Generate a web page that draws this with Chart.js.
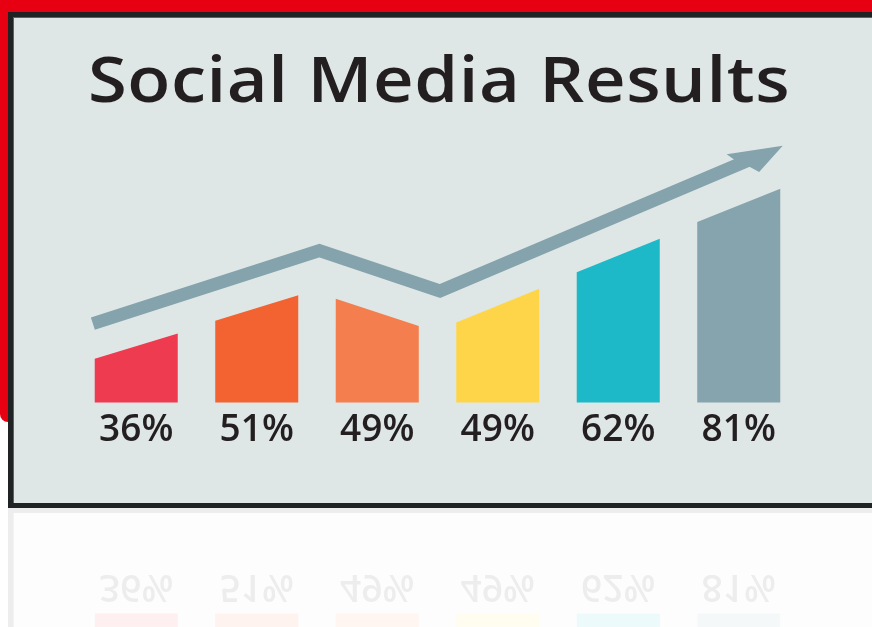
<!DOCTYPE html>
<html lang="en">
<head>
<meta charset="utf-8">
<title>Social Media Results</title>
<script src="https://cdn.jsdelivr.net/npm/chart.js"></script>
<style>
  html, body { margin: 0; padding: 0; background: #fff; }
  .page { position: relative; width: 872px; height: 627px; overflow: hidden; }
  .red { position: absolute; left: 0; top: 0; width: 872px; height: 422px; background: #e60012; border-bottom-left-radius: 8px; }
  .board { position: absolute; left: 8px; top: 12px; width: 900px; height: 496px; box-sizing: border-box;
           border: 5px solid #1f2323; background: #dfe7e6; box-shadow: inset 1px 1px 0 #5c6262; }
  .title { position: absolute; left: 88px; top: 46px; margin: 0; white-space: nowrap;
           font: 600 63px/63px "Open Sans", sans-serif; letter-spacing: 0.5px; color: #231f20;
           transform: scaleX(1.12); transform-origin: 0 50%; }
  .chart-box { position: absolute; left: 0; top: 0; width: 872px; height: 508px; }
  .mirror { position: absolute; left: 0; top: 0; width: 872px; height: 508px;
            transform: scaleY(-1); transform-origin: 50% 100%; opacity: 0.08; }
</style>
</head>
<body>
<div class="page">
  <div class="red"></div>
  <div class="mirror">
    <div class="board"></div>
    <div class="chart-box"><canvas id="reflection"></canvas></div>
  </div>
  <div class="board"></div>
  <h1 class="title">Social Media Results</h1>
  <div class="chart-box"><canvas id="chart"></canvas></div>
</div>

<script>
// labels under the bars
const pctLabels = ["36%", "51%", "49%", "49%", "62%", "81%"];
const barColors = ["#ef3b50", "#f26331", "#f47e4d", "#fed548", "#1eb9c8", "#86a4ad"];
// slanted tops: height at left and right edge of each bar
const topLeft = [14.9, 27.9, 35.4, 27.3, 44.4, 61.5];
const topRight = [23.5, 36.6, 26.1, 38.8, 55.8, 72.8];
// trend arrow (x in bar index units)
const trendX = [-0.36, 1.52, 2.52, 5.09];
const trendY = [26.9, 51.8, 38.0, 82.7];
const arrowColor = "#84a3ac";

// draws each bar as a trapezoid from the bar element + y scale
const slantedBars = {
  id: "slantedBars",
  beforeDatasetsDraw(chart) {
    const ctx = chart.ctx;
    const y = chart.scales.y;
    chart.getDatasetMeta(0).data.forEach((bar, i) => {
      const half = bar.width / 2;
      ctx.save();
      ctx.fillStyle = barColors[i];
      ctx.beginPath();
      ctx.moveTo(bar.x - half, bar.base);
      ctx.lineTo(bar.x - half, y.getPixelForValue(topLeft[i]));
      ctx.lineTo(bar.x + half, y.getPixelForValue(topRight[i]));
      ctx.lineTo(bar.x + half, bar.base);
      ctx.closePath();
      ctx.fill();
      ctx.restore();
    });
  }
};

// swept arrow head at the end of the trend line
const arrowHead = {
  id: "arrowHead",
  afterDatasetsDraw(chart) {
    const pts = chart.getDatasetMeta(1).data;
    const a = pts[pts.length - 2], b = pts[pts.length - 1];
    const len = Math.hypot(b.x - a.x, b.y - a.y);
    const ux = (b.x - a.x) / len, uy = (b.y - a.y) / len;
    const nx = -uy, ny = ux;
    const tx = b.x + ux * 36, ty = b.y + uy * 36;
    const at = (u, n) => [tx + ux * u + nx * n, ty + uy * u + ny * n];
    const shape = [at(0, 0), at(-55, -14), at(-50, -6), at(-37.5, 8), at(-32, 15)];
    const ctx = chart.ctx;
    ctx.save();
    ctx.fillStyle = arrowColor;
    ctx.beginPath();
    shape.forEach((p, i) => i ? ctx.lineTo(p[0], p[1]) : ctx.moveTo(p[0], p[1]));
    ctx.closePath();
    ctx.fill();
    ctx.restore();
  }
};

function makeChart(id) {
  return new Chart(document.getElementById(id), {
    type: "bar",
    data: {
      labels: pctLabels,
      datasets: [{
        data: topRight,
        backgroundColor: "rgba(0,0,0,0)",
        grouped: false,
        categoryPercentage: 1,
        barPercentage: 0.689
      }, {
        type: "line",
        xAxisID: "x2",
        data: trendX.map((x, i) => ({ x: x, y: trendY[i] })),
        borderColor: arrowColor,
        borderWidth: 13,
        borderJoinStyle: "miter",
        borderCapStyle: "butt",
        pointRadius: 0,
        tension: 0,
        fill: false
      }]
    },
    options: {
      responsive: true,
      maintainAspectRatio: false,
      animation: false,
      layout: { padding: { left: 76, right: 73, top: 109, bottom: 49 } },
      plugins: {
        legend: { display: false },
        tooltip: { enabled: false }
      },
      scales: {
        x: {
          type: "category",
          offset: true,
          grid: { display: false, drawTicks: false },
          border: { display: false },
          ticks: {
            color: "#231f20",
            font: { family: "Open Sans", size: 37, weight: "600" },
            padding: 6,
            maxRotation: 0,
            autoSkip: false
          }
        },
        x2: { type: "linear", display: false, offset: false, min: -0.5, max: 5.5 },
        y: { display: false, min: 0, max: 100 }
      }
    },
    plugins: [slantedBars, arrowHead]
  });
}

document.fonts.load('600 37px "Open Sans"').then(() => {
  makeChart("chart");
  makeChart("reflection");
});
</script>
</body>
</html>
